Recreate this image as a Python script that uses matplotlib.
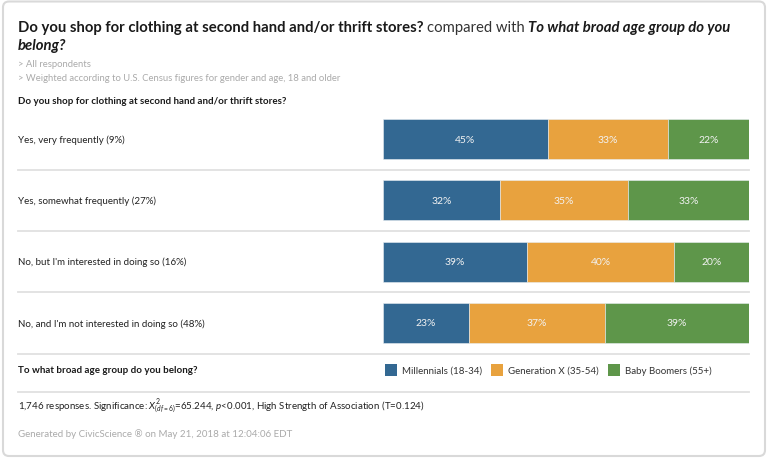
import matplotlib
matplotlib.use('Agg')
import matplotlib.pyplot as plt
from matplotlib import transforms
from matplotlib.patches import FancyBboxPatch, Rectangle

# survey answers (rows, top to bottom)
answers = ['Yes, very frequently (9%)',
           'Yes, somewhat frequently (27%)',
           "No, but I'm interested in doing so (16%)",
           "No, and I'm not interested in doing so (48%)"]

groups = ['Millennials (18-34)', 'Generation X (35-54)', 'Baby Boomers (55+)']
millennials = [45, 32, 39.4, 23.4]
gen_x = [33, 35, 40.2, 37.2]
boomers = [22, 33, 20.4, 39.4]

colors = ['#336892', '#e8a23e', '#5e964a']

plt.rcParams['font.family'] = ['Lato', 'DejaVu Sans']
plt.rcParams['mathtext.fontset'] = 'custom'
plt.rcParams['mathtext.rm'] = 'Lato'
plt.rcParams['mathtext.it'] = 'Lato:italic'

W, H = 768, 460
fig = plt.figure(figsize=(W / 100, H / 100), dpi=100)

# background axes in pixel coords for all the text and rules
bg = fig.add_axes([0, 0, 1, 1])
bg.set_xlim(0, W)
bg.set_ylim(H, 0)
bg.axis('off')

bg.add_patch(FancyBboxPatch((3, 2.5), W - 6, H - 5.5, boxstyle='round,pad=0,rounding_size=6',
                            facecolor='white', edgecolor='#d9d9d9', lw=1.5))

renderer = fig.canvas.get_renderer()


def chain(x, y, s, gap=3.5, **kw):
    t = bg.text(x, y, s, va='baseline', ha='left', **kw)
    return t.get_window_extent(renderer=renderer).x1 + gap


tsize = 10.7
x = chain(18, 32, 'Do you shop for clothing at second hand and/or thrift stores?',
          fontsize=tsize, fontweight='bold', color='#1a1a1a')
x = chain(x, 32, 'compared with', fontsize=tsize, color='#333333')
chain(x, 32, 'To what broad age group do you', fontsize=tsize, fontweight='bold',
      fontstyle='italic', color='#1a1a1a')
bg.text(18, 50, 'belong?', va='baseline', fontsize=tsize, fontweight='bold',
        fontstyle='italic', color='#1a1a1a')

bg.text(18, 67, '> All respondents', va='baseline', fontsize=6.8, color='#aaaaaa')
bg.text(18, 81, '> Weighted according to U.S. Census figures for gender and age, 18 and older',
        va='baseline', fontsize=6.8, color='#aaaaaa')
bg.text(18, 104, 'Do you shop for clothing at second hand and/or thrift stores?',
        va='baseline', fontsize=7, fontweight='bold', color='#1a1a1a')

# bars
top, bottom = 109.5, 354.5
ax = fig.add_axes([383 / W, 1 - bottom / H, 366 / W, (bottom - top) / H])
ax.set_facecolor('none')
ys = list(range(len(answers)))
left = [0] * len(answers)
for vals, c in zip([millennials, gen_x, boomers], colors):
    ax.barh(ys, vals, left=left, height=0.65, color=c, edgecolor='#e8eef2', lw=0.4)
    for y, v, l in zip(ys, vals, left):
        ax.text(l + v / 2, y, f'{round(v)}%', ha='center', va='center',
                fontsize=7.5, color='#f2f2f2')
    left = [a + b for a, b in zip(left, vals)]
ax.set_xlim(0, 100)
ax.set_ylim(len(answers) - 0.5, -0.5)
ax.axis('off')

tr = transforms.blended_transform_factory(bg.transData, ax.transData)
for y, a in zip(ys, answers):
    bg.text(18, y, a, transform=tr, va='center', fontsize=7, color='#222222')
    bg.plot([18, 749], [y + 0.5, y + 0.5], transform=tr, color='#e0e0e0', lw=1.3)

# legend row
bg.text(18, 371, 'To what broad age group do you belong?', va='center', fontsize=7,
        fontweight='bold', color='#1a1a1a')
lx = 385
for g, c in zip(groups, colors):
    bg.add_patch(Rectangle((lx, 365), 12, 12, facecolor=c, edgecolor='none'))
    t = bg.text(lx + 17, 371.5, g, va='center', fontsize=7, color='#333333')
    lx = t.get_window_extent(renderer=renderer).x1 + 9
bg.plot([18, 749], [393, 393], color='#e0e0e0', lw=1.3)

bg.text(18, 409, '1,746 responses. Significance: $X^{2}_{(df=6)}$=65.244, $p$<0.001, '
        'High Strength of Association (T=0.124)', va='baseline', fontsize=7, color='#222222')
bg.text(18, 437, 'Generated by CivicScience \u00ae on May 21, 2018 at 12:04:06 EDT',
        va='baseline', fontsize=7, color='#aaaaaa')

fig.savefig('out.png', dpi=100)
